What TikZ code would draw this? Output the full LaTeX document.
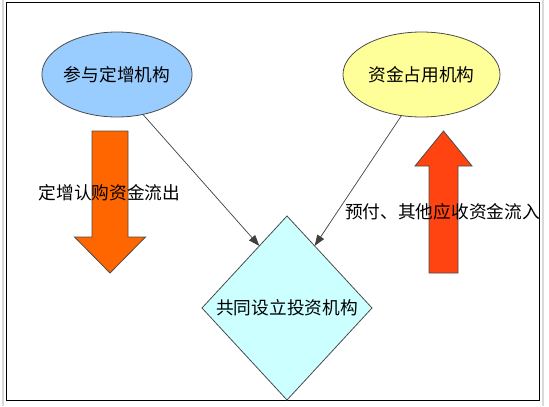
\documentclass[tikz,border=0pt]{standalone}
\usepackage{fontspec}
\newfontfamily\cjk{Noto Sans CJK SC}
\usepackage{tikz}
\usepackage{xcolor}
\usetikzlibrary{positioning}
\usetikzlibrary{arrows.meta}
\usetikzlibrary{shapes.geometric}
\definecolor{investorBlue}{HTML}{99CCFF}
\definecolor{occupierYellow}{HTML}{FFFF99}
\definecolor{fundCyan}{HTML}{CCFFFF}
\definecolor{outflowOrange}{HTML}{FF6600}
\definecolor{inflowRed}{HTML}{FF4411}
\definecolor{pageGray}{HTML}{D9D9D9}
\newcommand{\cjkText}{\cjk\fontsize{17.7pt}{21pt}\selectfont}
\tikzset{
   orgEllipse/.style={draw=black!70, line width=0.8pt, shape=ellipse, inner sep=0mm, outer sep=0mm, font=\cjkText},
   fundDiamond/.style={draw=black!70, line width=0.8pt, shape=diamond, fill=fundCyan, inner sep=0mm, outer sep=0mm, font=\cjkText},
   blockArrow/.style={draw=black!70, line width=0.8pt},
   flowLabel/.style={inner sep=0mm, font=\cjkText},
   feedLine/.style={draw=black!75, line width=0.7pt, -{Triangle[length=11pt,width=8pt]}},
}

\begin{document}
\begin{tikzpicture}[x=1pt,y=-1pt]
  \useasboundingbox (0,0) rectangle (549,407);
  %
  % page edges and frame
  \draw[pageGray, line width=2pt] (3,0) -- (3,406);
  \draw[pageGray, line width=2pt] (542.5,0) -- (542.5,406);
  \draw[black, line width=1.2pt] (6.3,2.3) rectangle (539.7,400.3);
  %
  \node[orgEllipse, fill=investorBlue, minimum width=142pt, minimum height=85pt] (investor) at (117,74.5) {参与定增机构};
  \node[orgEllipse, fill=occupierYellow, minimum width=157pt, minimum height=85pt] (occupier) at (421.5,74.5) {资金占用机构};
  \node[fundDiamond, minimum width=170pt, minimum height=184pt] (fund) at (287,308) {共同设立投资机构};
  %
  % big flow arrows
  \draw[blockArrow, fill=outflowOrange] (92,131) -- (128,131) -- (128,237) -- (145.5,237) -- (110,273) -- (74.5,237) -- (92,237) -- cycle;
  \draw[blockArrow, fill=inflowRed] (429,273) -- (458,273) -- (458,166) -- (472,166) -- (443.5,131) -- (415,166) -- (429,166) -- cycle;
  \node[flowLabel] (outLabel) at (109.5,193) {定增认购资金流出};
  \node[flowLabel] (inLabel) at (442.5,212) {预付、其他应收资金流入};
  %
  \draw[feedLine] (investor.-57) -- (fund.114);
  \draw[feedLine] (occupier.244) -- (fund.66);
\end{tikzpicture}
\end{document}
